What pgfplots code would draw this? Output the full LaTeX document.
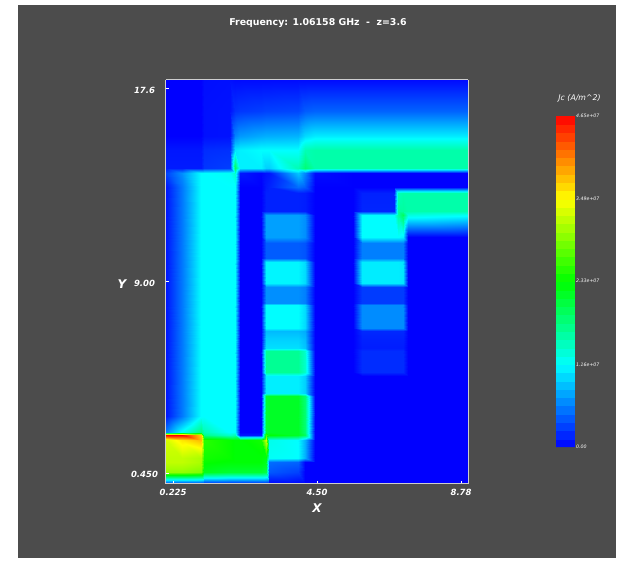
\documentclass[border=0pt]{standalone}
\usepackage{fontspec}
\setmainfont{DejaVu Sans}
\usepackage{pgfplots}
\pgfplotsset{compat=1.18}
\definecolor{bggray}{RGB}{76,76,76}
\definecolor{boxline}{RGB}{205,205,205}
\pgfplotsset{colormap={jc}{rgb255(0)=(0,0,255) rgb255(1)=(0,255,255) rgb255(2)=(0,255,0) rgb255(3)=(255,255,0) rgb255(4)=(255,0,0)}}
\begin{document}
\begin{tikzpicture}[x=1pt,y=1pt]
\fill[white] (0,0) rectangle (623,565);
\fill[bggray] (18,7) rectangle (616,560);
\begin{axis}[
  at={(165.5pt,81.5pt)},anchor=south west,
  scale only axis,width=303pt,height=404pt,
  view={0}{90},
  xmin=0,xmax=9,ymin=0,ymax=18,
  colormap name=jc,point meta min=0,point meta max=4.65,
  axis line style={boxline,line width=0.8pt},
  axis on top,
  xtick={0.225,4.5,8.78},xticklabels={0.225,4.50,8.78},
  ytick={0.45,9,17.6},yticklabels={0.450,9.00,17.6},
  tick style={white,line width=0.5pt},
  major tick length=3pt,
  tick align=inside,
  xtick pos=bottom,ytick pos=left,
  tick label style={white,font=\fontsize{8.5}{10}\selectfont\bfseries\itshape},
  xticklabel style={yshift=-2.5pt},
  yticklabel style={anchor=center,xshift=-21pt,yshift=-1.5pt},
  colorbar sampled,
  colorbar style={
    at={(1.2888,0.0903)},anchor=south west,
    width=19pt,height=331pt,
    samples=41,
    scale only axis,
    axis line style={draw=none},
    ytick={0,1.16,2.33,3.49,4.65},
    yticklabels={0.00,1.16e+07,2.33e+07,3.49e+07,4.65e+07},
    yticklabel pos=right,
    major tick length=0pt,
    yticklabel style={white,font=\fontsize{4.7}{5}\selectfont\itshape,inner sep=1pt},
  },
]
\addplot3[surf,shader=interp,mesh/cols=20,mesh/rows=35,point meta=z] coordinates {
(0,18,0)(.5,18,0)(1.05,18,0)(1.13,18,.06)(1.92,18,.07)(2.06,18,.05)(2.21,18,.05)(2.85,18,.05)(3,18,.05)(3.08,18,.05)(3.94,18,.05)(4.15,18,.05)(4.45,18,.05)(5.57,18,.05)(5.85,18,.05)(6.8,18,.05)(6.9,18,.05)(7.05,18,.05)(7.2,18,.05)(9,18,.05)
(0,16.6,0)(.5,16.6,0)(1.05,16.6,0)(1.13,16.6,.07)(1.92,16.6,.08)(2.06,16.6,.22)(2.21,16.6,.25)(2.85,16.6,.28)(3,16.6,.3)(3.08,16.6,.3)(3.94,16.6,.32)(4.15,16.6,.42)(4.45,16.6,.45)(5.57,16.6,.45)(5.85,16.6,.45)(6.8,16.6,.45)(6.9,16.6,.45)(7.05,16.6,.45)(7.2,16.6,.45)(9,16.6,.45)
(0,15.5,0)(.5,15.5,0)(1.05,15.5,0)(1.13,15.5,.07)(1.92,15.5,.08)(2.06,15.5,.6)(2.21,15.5,.7)(2.85,15.5,.78)(3,15.5,.8)(3.08,15.5,.8)(3.94,15.5,.82)(4.15,15.5,1)(4.45,15.5,1.08)(5.57,15.5,1.08)(5.85,15.5,1.08)(6.8,15.5,1.08)(6.9,15.5,1.08)(7.05,15.5,1.08)(7.2,15.5,1.08)(9,15.5,1.08)
(0,14.85,.1)(.5,14.85,.1)(1.05,14.85,.1)(1.13,14.85,.2)(1.92,14.85,.22)(2.06,14.85,1.05)(2.21,14.85,1.1)(2.85,14.85,1.16)(3,14.85,1.16)(3.08,14.85,1.16)(3.94,14.85,1.16)(4.15,14.85,1.5)(4.45,14.85,1.55)(5.57,14.85,1.55)(5.85,14.85,1.55)(6.8,14.85,1.55)(6.9,14.85,1.55)(7.05,14.85,1.55)(7.2,14.85,1.55)(9,14.85,1.55)
(0,14.05,.12)(.5,14.05,.12)(1.05,14.05,.12)(1.13,14.05,.24)(1.92,14.05,.28)(2.06,14.05,1.9)(2.21,14.05,1.1)(2.85,14.05,1.1)(3,14.05,.95)(3.08,14.05,.95)(3.94,14.05,1.5)(4.15,14.05,1.8)(4.45,14.05,1.55)(5.57,14.05,1.55)(5.85,14.05,1.55)(6.8,14.05,1.55)(6.9,14.05,1.55)(7.05,14.05,1.55)(7.2,14.05,1.55)(9,14.05,1.55)
(0,13.85,.3)(.5,13.85,.65)(1.05,13.85,1.16)(1.13,13.85,1.16)(1.92,13.85,1.2)(2.06,13.85,1.4)(2.21,13.85,.1)(2.85,13.85,.02)(3,13.85,.08)(3.08,13.85,.1)(3.94,13.85,.9)(4.15,13.85,.6)(4.45,13.85,.05)(5.57,13.85,0)(5.85,13.85,0)(6.8,13.85,0)(6.9,13.85,0)(7.05,13.85,0)(7.2,13.85,0)(9,13.85,0)
(0,13.2,.1)(.5,13.2,.55)(1.05,13.2,1.16)(1.13,13.2,1.16)(1.92,13.2,1.16)(2.06,13.2,1.16)(2.21,13.2,0)(2.85,13.2,0)(3,13.2,.12)(3.08,13.2,.15)(3.94,13.2,.5)(4.15,13.2,.42)(4.45,13.2,0)(5.57,13.2,0)(5.85,13.2,0)(6.8,13.2,0)(6.9,13.2,0)(7.05,13.2,0)(7.2,13.2,0)(9,13.2,0)
(0,12.95,.1)(.5,12.95,.55)(1.05,12.95,1.16)(1.13,12.95,1.16)(1.92,12.95,1.16)(2.06,12.95,1.16)(2.21,12.95,0)(2.85,12.95,0)(3,12.95,.15)(3.08,12.95,.15)(3.94,12.95,.15)(4.15,12.95,.13)(4.45,12.95,0)(5.57,12.95,0)(5.85,12.95,.15)(6.8,12.95,.15)(6.9,12.95,1.5)(7.05,12.95,1.55)(7.2,12.95,1.55)(9,12.95,1.55)
(0,12.15,.1)(.5,12.15,.55)(1.05,12.15,1.16)(1.13,12.15,1.16)(1.92,12.15,1.16)(2.06,12.15,1.16)(2.21,12.15,0)(2.85,12.15,0)(3,12.15,.15)(3.08,12.15,.15)(3.94,12.15,.15)(4.15,12.15,.13)(4.45,12.15,0)(5.57,12.15,0)(5.85,12.15,.17)(6.8,12.15,.17)(6.9,12.15,1.6)(7.05,12.15,1.6)(7.2,12.15,1.55)(9,12.15,1.55)
(0,11.95,.1)(.5,11.95,.55)(1.05,11.95,1.16)(1.13,11.95,1.16)(1.92,11.95,1.16)(2.06,11.95,1.16)(2.21,11.95,0)(2.85,11.95,0)(3,11.95,.73)(3.08,11.95,.73)(3.94,11.95,.73)(4.15,11.95,.65)(4.45,11.95,0)(5.57,11.95,0)(5.85,11.95,1.16)(6.8,11.95,1.16)(6.9,11.95,1.6)(7.05,11.95,1.9)(7.2,11.95,1.3)(9,11.95,1.2)
(0,10.98,.1)(.5,10.98,.55)(1.05,10.98,1.16)(1.13,10.98,1.16)(1.92,10.98,1.16)(2.06,10.98,1.16)(2.21,10.98,0)(2.85,10.98,0)(3,10.98,.73)(3.08,10.98,.73)(3.94,10.98,.73)(4.15,10.98,.65)(4.45,10.98,0)(5.57,10.98,0)(5.85,10.98,1.16)(6.8,10.98,1.16)(6.9,10.98,1.16)(7.05,10.98,1.1)(7.2,10.98,0)(9,10.98,0)
(0,10.7,.1)(.5,10.7,.55)(1.05,10.7,1.16)(1.13,10.7,1.16)(1.92,10.7,1.16)(2.06,10.7,1.16)(2.21,10.7,0)(2.85,10.7,0)(3,10.7,.42)(3.08,10.7,.42)(3.94,10.7,.42)(4.15,10.7,.38)(4.45,10.7,0)(5.57,10.7,0)(5.85,10.7,.58)(6.8,10.7,.58)(6.9,10.7,.58)(7.05,10.7,.58)(7.2,10.7,0)(9,10.7,0)
(0,10.05,.1)(.5,10.05,.55)(1.05,10.05,1.16)(1.13,10.05,1.16)(1.92,10.05,1.16)(2.06,10.05,1.16)(2.21,10.05,0)(2.85,10.05,0)(3,10.05,.42)(3.08,10.05,.42)(3.94,10.05,.42)(4.15,10.05,.38)(4.45,10.05,0)(5.57,10.05,0)(5.85,10.05,.58)(6.8,10.05,.58)(6.9,10.05,.58)(7.05,10.05,.58)(7.2,10.05,0)(9,10.05,0)
(0,9.85,.1)(.5,9.85,.55)(1.05,9.85,1.16)(1.13,9.85,1.16)(1.92,9.85,1.16)(2.06,9.85,1.16)(2.21,9.85,0)(2.85,9.85,0)(3,9.85,1.12)(3.08,9.85,1.12)(3.94,9.85,1.12)(4.15,9.85,1)(4.45,9.85,0)(5.57,9.85,0)(5.85,9.85,1.08)(6.8,9.85,1.08)(6.9,9.85,1.08)(7.05,9.85,1.05)(7.2,9.85,0)(9,9.85,0)
(0,8.95,.1)(.5,8.95,.55)(1.05,8.95,1.16)(1.13,8.95,1.16)(1.92,8.95,1.16)(2.06,8.95,1.16)(2.21,8.95,0)(2.85,8.95,0)(3,8.95,1.12)(3.08,8.95,1.12)(3.94,8.95,1.12)(4.15,8.95,1)(4.45,8.95,0)(5.57,8.95,0)(5.85,8.95,1.08)(6.8,8.95,1.08)(6.9,8.95,1.08)(7.05,8.95,1.05)(7.2,8.95,0)(9,8.95,0)
(0,8.75,.1)(.5,8.75,.55)(1.05,8.75,1.16)(1.13,8.75,1.16)(1.92,8.75,1.16)(2.06,8.75,1.16)(2.21,8.75,0)(2.85,8.75,0)(3,8.75,.65)(3.08,8.75,.65)(3.94,8.75,.65)(4.15,8.75,.58)(4.45,8.75,0)(5.57,8.75,0)(5.85,8.75,.27)(6.8,8.75,.27)(6.9,8.75,.27)(7.05,8.75,.27)(7.2,8.75,0)(9,8.75,0)
(0,8.05,.1)(.5,8.05,.55)(1.05,8.05,1.16)(1.13,8.05,1.16)(1.92,8.05,1.16)(2.06,8.05,1.16)(2.21,8.05,0)(2.85,8.05,0)(3,8.05,.65)(3.08,8.05,.65)(3.94,8.05,.65)(4.15,8.05,.58)(4.45,8.05,0)(5.57,8.05,0)(5.85,8.05,.27)(6.8,8.05,.27)(6.9,8.05,.27)(7.05,8.05,.27)(7.2,8.05,0)(9,8.05,0)
(0,7.95,.1)(.5,7.95,.55)(1.05,7.95,1.16)(1.13,7.95,1.16)(1.92,7.95,1.16)(2.06,7.95,1.16)(2.21,7.95,0)(2.85,7.95,0)(3,7.95,1.16)(3.08,7.95,1.16)(3.94,7.95,1.16)(4.15,7.95,1)(4.45,7.95,0)(5.57,7.95,0)(5.85,7.95,.64)(6.8,7.95,.64)(6.9,7.95,.64)(7.05,7.95,.64)(7.2,7.95,0)(9,7.95,0)
(0,6.95,.1)(.5,6.95,.55)(1.05,6.95,1.16)(1.13,6.95,1.16)(1.92,6.95,1.16)(2.06,6.95,1.16)(2.21,6.95,0)(2.85,6.95,0)(3,6.95,1.16)(3.08,6.95,1.16)(3.94,6.95,1.16)(4.15,6.95,1)(4.45,6.95,0)(5.57,6.95,0)(5.85,6.95,.64)(6.8,6.95,.64)(6.9,6.95,.64)(7.05,6.95,.64)(7.2,6.95,0)(9,6.95,0)
(0,6.8,.1)(.5,6.8,.55)(1.05,6.8,1.16)(1.13,6.8,1.16)(1.92,6.8,1.16)(2.06,6.8,1.16)(2.21,6.8,0)(2.85,6.8,0)(3,6.8,.85)(3.08,6.8,.85)(3.94,6.8,.85)(4.15,6.8,.78)(4.45,6.8,0)(5.57,6.8,0)(5.85,6.8,.18)(6.8,6.8,.18)(6.9,6.8,.18)(7.05,6.8,.18)(7.2,6.8,0)(9,6.8,0)
(0,6.45,.1)(.5,6.45,.55)(1.05,6.45,1.16)(1.13,6.45,1.16)(1.92,6.45,1.16)(2.06,6.45,1.16)(2.21,6.45,0)(2.85,6.45,0)(3,6.45,.95)(3.08,6.45,.95)(3.94,6.45,.95)(4.15,6.45,.85)(4.45,6.45,0)(5.57,6.45,0)(5.85,6.45,.15)(6.8,6.45,.15)(6.9,6.45,.15)(7.05,6.45,.15)(7.2,6.45,0)(9,6.45,0)
(0,6.05,.1)(.5,6.05,.55)(1.05,6.05,1.16)(1.13,6.05,1.16)(1.92,6.05,1.16)(2.06,6.05,1.16)(2.21,6.05,0)(2.85,6.05,0)(3,6.05,1.02)(3.08,6.05,1.02)(3.94,6.05,1.02)(4.15,6.05,.9)(4.45,6.05,0)(5.57,6.05,0)(5.85,6.05,.13)(6.8,6.05,.13)(6.9,6.05,.13)(7.05,6.05,.13)(7.2,6.05,0)(9,6.05,0)
(0,5.9,.1)(.5,5.9,.55)(1.05,5.9,1.16)(1.13,5.9,1.16)(1.92,5.9,1.16)(2.06,5.9,1.16)(2.21,5.9,0)(2.85,5.9,0)(3,5.9,1.65)(3.08,5.9,1.65)(3.94,5.9,1.65)(4.15,5.9,1.4)(4.45,5.9,0)(5.57,5.9,0)(5.85,5.9,.2)(6.8,5.9,.2)(6.9,5.9,.2)(7.05,5.9,.2)(7.2,5.9,0)(9,5.9,0)
(0,4.95,.1)(.5,4.95,.55)(1.05,4.95,1.16)(1.13,4.95,1.16)(1.92,4.95,1.16)(2.06,4.95,1.16)(2.21,4.95,0)(2.85,4.95,0)(3,4.95,1.65)(3.08,4.95,1.65)(3.94,4.95,1.65)(4.15,4.95,1.4)(4.45,4.95,0)(5.57,4.95,0)(5.85,4.95,.2)(6.8,4.95,.2)(6.9,4.95,.2)(7.05,4.95,.2)(7.2,4.95,0)(9,4.95,0)
(0,4.8,.1)(.5,4.8,.55)(1.05,4.8,1.16)(1.13,4.8,1.16)(1.92,4.8,1.16)(2.06,4.8,1.16)(2.21,4.8,0)(2.85,4.8,0)(3,4.8,1.09)(3.08,4.8,1.09)(3.94,4.8,1.09)(4.15,4.8,.95)(4.45,4.8,0)(5.57,4.8,0)(5.85,4.8,0)(6.8,4.8,0)(6.9,4.8,0)(7.05,4.8,0)(7.2,4.8,0)(9,4.8,0)
(0,4.05,.1)(.5,4.05,.55)(1.05,4.05,1.16)(1.13,4.05,1.16)(1.92,4.05,1.16)(2.06,4.05,1.16)(2.21,4.05,0)(2.85,4.05,0)(3,4.05,1.09)(3.08,4.05,1.09)(3.94,4.05,1.09)(4.15,4.05,.95)(4.45,4.05,0)(5.57,4.05,0)(5.85,4.05,0)(6.8,4.05,0)(6.9,4.05,0)(7.05,4.05,0)(7.2,4.05,0)(9,4.05,0)
(0,3.9,.1)(.5,3.9,.55)(1.05,3.9,1.16)(1.13,3.9,1.16)(1.92,3.9,1.16)(2.06,3.9,1.16)(2.21,3.9,0)(2.85,3.9,0)(3,3.9,2.1)(3.08,3.9,2.15)(3.94,3.9,2.15)(4.15,3.9,1.8)(4.45,3.9,0)(5.57,3.9,0)(5.85,3.9,0)(6.8,3.9,0)(6.9,3.9,0)(7.05,3.9,0)(7.2,3.9,0)(9,3.9,0)
(0,3,.1)(.5,3,.55)(1.05,3,1.16)(1.13,3,1.16)(1.92,3,1.16)(2.06,3,1.16)(2.21,3,0)(2.85,3,0)(3,3,2.1)(3.08,3,2.15)(3.94,3,2.15)(4.15,3,1.8)(4.45,3,0)(5.57,3,0)(5.85,3,0)(6.8,3,0)(6.9,3,0)(7.05,3,0)(7.2,3,0)(9,3,0)
(0,2.3,.6)(.5,2.3,1.2)(1.05,2.3,1.75)(1.13,2.3,1.5)(1.92,2.3,1.16)(2.06,2.3,1.16)(2.21,2.3,0)(2.85,2.3,0)(3,2.3,2.1)(3.08,2.3,2.15)(3.94,2.3,2.15)(4.15,2.3,1.8)(4.45,2.3,0)(5.57,2.3,0)(5.85,2.3,0)(6.8,2.3,0)(6.9,2.3,0)(7.05,2.3,0)(7.2,2.3,0)(9,2.3,0)
(0,2.15,4.65)(.5,2.15,4.65)(1.05,2.15,3.7)(1.13,2.15,1.7)(1.92,2.15,1.4)(2.06,2.15,1.5)(2.21,2.15,.1)(2.85,2.15,.1)(3,2.15,2.6)(3.08,2.15,2.3)(3.94,2.15,2.15)(4.15,2.15,1.9)(4.45,2.15,0)(5.57,2.15,0)(5.85,2.15,0)(6.8,2.15,0)(6.9,2.15,0)(7.05,2.15,0)(7.2,2.15,0)(9,2.15,0)
(0,1.95,3.3)(.5,1.95,3.6)(1.05,1.95,3.8)(1.13,1.95,2.5)(1.92,1.95,2.35)(2.06,1.95,2.3)(2.21,1.95,2.3)(2.85,1.95,2.4)(3,1.95,3.3)(3.08,1.95,1.25)(3.94,1.95,1.16)(4.15,1.95,.8)(4.45,1.95,0)(5.57,1.95,0)(5.85,1.95,0)(6.8,1.95,0)(6.9,1.95,0)(7.05,1.95,0)(7.2,1.95,0)(9,1.95,0)
(0,1.15,3.2)(.5,1.15,3.2)(1.05,1.15,3.1)(1.13,1.15,2.4)(1.92,1.15,2.35)(2.06,1.15,2.3)(2.21,1.15,2.3)(2.85,1.15,2.3)(3,1.15,2.25)(3.08,1.15,1.2)(3.94,1.15,1.16)(4.15,1.15,.8)(4.45,1.15,0)(5.57,1.15,0)(5.85,1.15,0)(6.8,1.15,0)(6.9,1.15,0)(7.05,1.15,0)(7.2,1.15,0)(9,1.15,0)
(0,.95,3.2)(.5,.95,3.2)(1.05,.95,3.1)(1.13,.95,2.35)(1.92,.95,2.3)(2.06,.95,2.3)(2.21,.95,2.3)(2.85,.95,2.3)(3,.95,2.2)(3.08,.95,.5)(3.94,.95,.45)(4.15,.95,0)(4.45,.95,0)(5.57,.95,0)(5.85,.95,0)(6.8,.95,0)(6.9,.95,0)(7.05,.95,0)(7.2,.95,0)(9,.95,0)
(0,.5,3)(.5,.5,3)(1.05,.5,2.9)(1.13,.5,2.2)(1.92,.5,2.1)(2.06,.5,2.1)(2.21,.5,2.1)(2.85,.5,2.1)(3,.5,2)(3.08,.5,.4)(3.94,.5,.3)(4.15,.5,0)(4.45,.5,0)(5.57,.5,0)(5.85,.5,0)(6.8,.5,0)(6.9,.5,0)(7.05,.5,0)(7.2,.5,0)(9,.5,0)
(0,0,.1)(.5,0,.1)(1.05,0,.1)(1.13,0,.05)(1.92,0,.05)(2.06,0,.05)(2.21,0,.05)(2.85,0,.05)(3,0,.05)(3.08,0,0)(3.94,0,0)(4.15,0,0)(4.45,0,0)(5.57,0,0)(5.85,0,0)(6.8,0,0)(6.9,0,0)(7.05,0,0)(7.2,0,0)(9,0,0)
};
\end{axis}
\node[white,font=\fontsize{9.4}{11}\selectfont\bfseries] at (318,541.5) {Frequency: 1.06158 GHz\ \ -\ \ z=3.6};
\node[white,font=\fontsize{12}{15}\selectfont\bfseries\itshape] at (317,57) {X};
\node[white,font=\fontsize{12}{15}\selectfont\bfseries\itshape] at (122,281) {Y};
\node[white,font=\fontsize{7.8}{9}\selectfont\itshape] at (579.5,467) {Jc (A/m\textasciicircum 2)};
\end{tikzpicture}
\end{document}
